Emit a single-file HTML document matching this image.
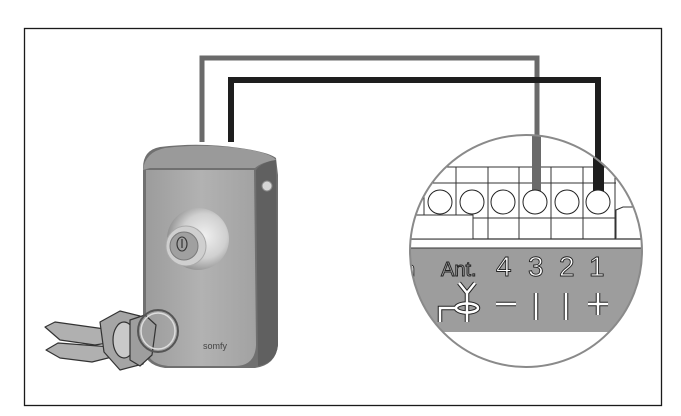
<!DOCTYPE html>
<html><head><meta charset="utf-8"><style>
html,body{margin:0;padding:0;background:#fff;}
svg{display:block;}
</style></head><body>
<svg width="681" height="416" viewBox="0 0 681 416" xmlns="http://www.w3.org/2000/svg">
<defs>
<linearGradient id="front" x1="0" x2="1" y1="0" y2="0">
<stop offset="0" stop-color="#9c9c9c"/><stop offset="0.5" stop-color="#b2b2b2"/><stop offset="1" stop-color="#a2a2a2"/>
</linearGradient>
<radialGradient id="knob" cx="0.6" cy="0.45" r="0.6">
<stop offset="0" stop-color="#f0f0f0"/><stop offset="0.6" stop-color="#d0d0d0"/><stop offset="1" stop-color="#8f8f8f"/>
</radialGradient>
<clipPath id="cc"><circle cx="526" cy="251" r="116"/></clipPath>
</defs>
<rect x="24.5" y="28.5" width="637" height="377" fill="none" stroke="#1a1a1a" stroke-width="1.3"/>
<polyline points="202,142 202,58 537,58 537,195" fill="none" stroke="#6a6a6a" stroke-width="5"/>
<polyline points="231,142 231,80 598,80 598,195" fill="none" stroke="#1e1e1e" stroke-width="6"/>
<!-- device -->
<path d="M143,168 Q143,150 160,147 Q200,142 240,148 Q268,152 276,158 L278,175 L278,345 Q276,365 255,368 L165,368 Q143,365 143,345 Z" fill="#707070"/>
<path d="M143,170 Q145,152 165,148 Q205,143 245,149 Q270,153 276,160 Q262,162 255,168 L150,168 Z" fill="#9a9a9a"/>
<path d="M146,170 L254,170 L256,345 Q255,366 235,366 L168,366 Q146,364 146,345 Z" fill="url(#front)"/>
<path d="M256,170 Q262,162 276,160 L278,345 Q276,363 258,366 Z" fill="#606060"/>
<circle cx="267" cy="186" r="5" fill="#d6d6d6" stroke="#888" stroke-width="1"/>
<circle cx="198" cy="239" r="31" fill="url(#knob)"/>
<circle cx="186" cy="246" r="20" fill="#cfcfcf" stroke="#aaa" stroke-width="1"/>
<circle cx="184" cy="246" r="14" fill="#a0a0a0" stroke="#7a7a7a" stroke-width="1"/>
<ellipse cx="182" cy="244" rx="5" ry="7" fill="none" stroke="#333" stroke-width="1.1"/>
<line x1="182" y1="239" x2="182" y2="248" stroke="#333" stroke-width="1.2"/>
<text x="203" y="349" font-family="Liberation Sans, sans-serif" font-size="9" fill="#444">somfy</text>
<!-- keys -->
<g stroke="#333" stroke-width="1.2" stroke-linejoin="round">
<path d="M45,327 L55,322 L112,330 L114,342 L95,345 L60,340 Z" fill="#b0b0b0"/>
<path d="M46,350 L58,343 L112,347 L112,357 L92,362 L60,358 Z" fill="#b0b0b0"/>
<path d="M100,322 L120,311 L140,316 L150,340 L143,364 L120,370 L104,352 Z" fill="#a5a5a5"/>
<ellipse cx="124" cy="340" rx="11" ry="18" fill="#c9c9c9"/>
<path d="M130,320 L145,315 L156,325 L152,355 L140,366 L130,360 Z" fill="#9e9e9e"/>
<ellipse cx="158" cy="331" rx="20" ry="21" fill="none" stroke="#555" stroke-width="2"/>
<ellipse cx="158" cy="331" rx="17" ry="18" fill="none" stroke="#ddd" stroke-width="1.5"/>
</g>
<!-- magnified circle -->
<circle cx="526" cy="251" r="116" fill="#fff"/>
<g clip-path="url(#cc)">
<rect x="400" y="248" width="260" height="84" fill="#9d9d9d"/>
<line x1="400" y1="248" x2="660" y2="248" stroke="#333" stroke-width="1"/>
<line x1="400" y1="239" x2="660" y2="239" stroke="#333" stroke-width="1.2"/>
<line x1="400" y1="167" x2="616" y2="167" stroke="#333" stroke-width="1"/>
<line x1="400" y1="183" x2="616" y2="183" stroke="#333" stroke-width="1"/>
<line x1="400" y1="218" x2="616" y2="218" stroke="#333" stroke-width="1"/>
<rect x="400" y="215" width="73" height="24" fill="#fff" stroke="#333" stroke-width="1"/>
<g stroke="#333" stroke-width="1" fill="#fff">
<line x1="424" y1="167" x2="424" y2="215"/><line x1="456" y1="167" x2="456" y2="215"/>
<line x1="488" y1="167" x2="488" y2="239"/><line x1="519" y1="167" x2="519" y2="239"/>
<line x1="551" y1="167" x2="551" y2="239"/><line x1="583" y1="167" x2="583" y2="239"/>
<line x1="615" y1="167" x2="615" y2="239"/>
<path d="M616,239 L616,210 L623,207 L660,207"/>
</g>
<rect x="532" y="130" width="9" height="62" fill="#6a6a6a"/>
<rect x="593" y="130" width="11" height="62" fill="#1e1e1e"/>
<g fill="#fff" stroke="#222" stroke-width="1">
<circle cx="440" cy="202" r="12"/><circle cx="472" cy="202" r="12"/><circle cx="503" cy="202" r="12"/>
<circle cx="535" cy="202" r="12"/><circle cx="567" cy="202" r="12"/><circle cx="598" cy="202" r="12"/>
</g>
<g font-family="Liberation Sans, sans-serif" fill="#fff" stroke="#222" stroke-width="0.9">
<text x="404" y="276" font-size="20">h</text>
<text x="441" y="276" font-size="20" fill="#9d9d9d">Ant.</text>
<text x="496" y="276" font-size="28">4</text><text x="528" y="276" font-size="28">3</text>
<text x="559" y="276" font-size="28">2</text><text x="589" y="276" font-size="28">1</text>
</g>
<g stroke="#222" stroke-width="4.5" fill="none">
<path d="M459,283 L467,293 L475,283 M467,293 L467,322 M440,322 L440,308 L456,308"/>
<ellipse cx="467" cy="308" rx="11" ry="4.5"/>
<line x1="496" y1="304" x2="516" y2="304"/>
<line x1="536" y1="293" x2="536" y2="320"/>
<line x1="566" y1="293" x2="566" y2="320"/>
<line x1="588" y1="304" x2="608" y2="304"/><line x1="598" y1="293" x2="598" y2="315"/>
</g>
<g stroke="#fff" stroke-width="2.5" fill="none">
<path d="M459,283 L467,293 L475,283 M467,293 L467,322 M440,322 L440,308 L456,308"/>
<ellipse cx="467" cy="308" rx="11" ry="4.5"/>
<line x1="496" y1="304" x2="516" y2="304"/>
<line x1="536" y1="293" x2="536" y2="320"/>
<line x1="566" y1="293" x2="566" y2="320"/>
<line x1="588" y1="304" x2="608" y2="304"/><line x1="598" y1="293" x2="598" y2="315"/>
</g>
</g>
<circle cx="526" cy="251" r="116" fill="none" stroke="#8a8a8a" stroke-width="2"/>
</svg>
</body></html>
